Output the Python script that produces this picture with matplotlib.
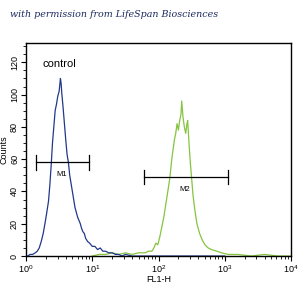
"""Flow cytometry histogram: control vs stained (FL1-H)."""

import matplotlib
matplotlib.use("Agg")
import matplotlib.pyplot as plt
from matplotlib.ticker import LogLocator, MultipleLocator, NullFormatter

plt.rcParams["font.family"] = ["Liberation Sans", "DejaVu Sans"]
plt.rcParams["mathtext.fontset"] = "custom"
plt.rcParams["mathtext.rm"] = "Liberation Sans"
plt.rcParams["mathtext.it"] = "Liberation Sans"

# control (blue) histogram, x as log10(FL1-H)
blue_log = [0.00, 0.03, 0.06, 0.10, 0.14, 0.17, 0.20, 0.23, 0.26, 0.29, 0.31, 0.34,
            0.36, 0.38, 0.40, 0.42, 0.44, 0.46, 0.48, 0.50, 0.51, 0.52, 0.53, 0.54,
            0.56, 0.58, 0.60, 0.62, 0.64, 0.66, 0.68, 0.70, 0.72, 0.74, 0.76, 0.78,
            0.80, 0.82, 0.84, 0.86, 0.88, 0.90, 0.93, 0.96, 1.00, 1.04, 1.08, 1.12,
            1.16, 1.20, 1.25, 1.30, 1.35, 1.40, 1.45, 1.50, 1.60, 1.80, 2.00, 2.50, 3.00]
blue_counts = [0, 0, 1, 1, 2, 3, 5, 9, 14, 21, 26, 34,
               44, 56, 70, 80, 90, 94, 99, 102, 106, 110, 107, 101,
               92, 82, 72, 63, 58, 50, 45, 40, 35, 30, 27, 24,
               22, 20, 17, 15, 14, 11, 9, 8, 6, 6, 4, 5,
               3, 3, 2, 2, 1, 1, 0, 1, 0, 0, 0, 0, 0]

# stained sample (green) histogram
green_log = [1.00, 1.10, 1.20, 1.30, 1.40, 1.50, 1.60, 1.70, 1.80, 1.85, 1.90, 1.93,
             1.96, 1.99, 2.02, 2.05, 2.08, 2.11, 2.14, 2.17, 2.20, 2.22, 2.24, 2.26,
             2.28, 2.30, 2.32, 2.34, 2.35, 2.37, 2.39, 2.41, 2.43, 2.44, 2.46, 2.48,
             2.50, 2.52, 2.55, 2.58, 2.62, 2.66, 2.70, 2.75, 2.80, 2.88, 2.95, 3.05,
             3.20, 3.40, 3.60, 3.80, 4.00]
green_counts = [0, 1, 1, 2, 1, 2, 1, 2, 2, 3, 3, 5,
                8, 7, 12, 18, 24, 32, 40, 48, 60, 66, 72, 76,
                82, 78, 84, 88, 96, 86, 80, 76, 82, 84, 70, 58,
                48, 38, 28, 20, 14, 10, 7, 5, 4, 3, 2, 1,
                1, 0, 1, 0, 0]

# marker gates: (left, right, height, label)
gates = [(1.40, 9.0, 58, "M1"), (61.0, 1100.0, 49, "M2")]

fig = plt.figure(figsize=(3.05, 2.96), dpi=100)
ax = fig.add_axes([0.0852, 0.135, 0.869, 0.72])

ax.plot([10 ** v for v in green_log], green_counts, color="#86c440", lw=0.9)
ax.plot([10 ** v for v in blue_log], blue_counts, color="#22388a", lw=0.9)

for lo, hi, h, name in gates:
    ax.plot([lo, hi], [h, h], color="black", lw=0.9)
    ax.plot([lo, lo], [h - 4.5, h + 4.5], color="black", lw=0.9)
    ax.plot([hi, hi], [h - 4.5, h + 4.5], color="black", lw=0.9)
    mid = (lo * hi) ** 0.5
    ax.text(mid * 0.97, h - 7.5, name, fontsize=5.5, ha="center", va="center")

ax.text(1.75, 119, "control", fontsize=8, ha="left", va="center")

ax.set_xscale("log")
ax.set_xlim(1, 1e4)
ax.set_ylim(0, 132)
ax.yaxis.set_major_locator(MultipleLocator(20))
ax.yaxis.set_minor_locator(MultipleLocator(5))
ax.xaxis.set_major_locator(LogLocator(base=10, numticks=10))
ax.xaxis.set_minor_locator(LogLocator(base=10, subs=range(2, 10), numticks=10))
ax.xaxis.set_minor_formatter(NullFormatter())
ax.tick_params(axis="both", which="major", length=3.5, width=0.8, labelsize=6.5, pad=1.5)
ax.tick_params(axis="both", which="minor", length=2, width=0.6)
for lbl in ax.get_yticklabels():
    lbl.set_rotation(90)
    lbl.set_va("center")
for s in ax.spines.values():
    s.set_linewidth(1.0)

ax.set_ylabel("Counts", fontsize=6.5, labelpad=1)
ax.set_xlabel("FL1-H", fontsize=6.5, labelpad=0)

fig.text(0.033, 0.95, "with permission from LifeSpan Biosciences", fontsize=6.8,
         family="DejaVu Serif", style="italic", color="#1b2b5e", va="center")

fig.savefig("out.png", dpi=100)
